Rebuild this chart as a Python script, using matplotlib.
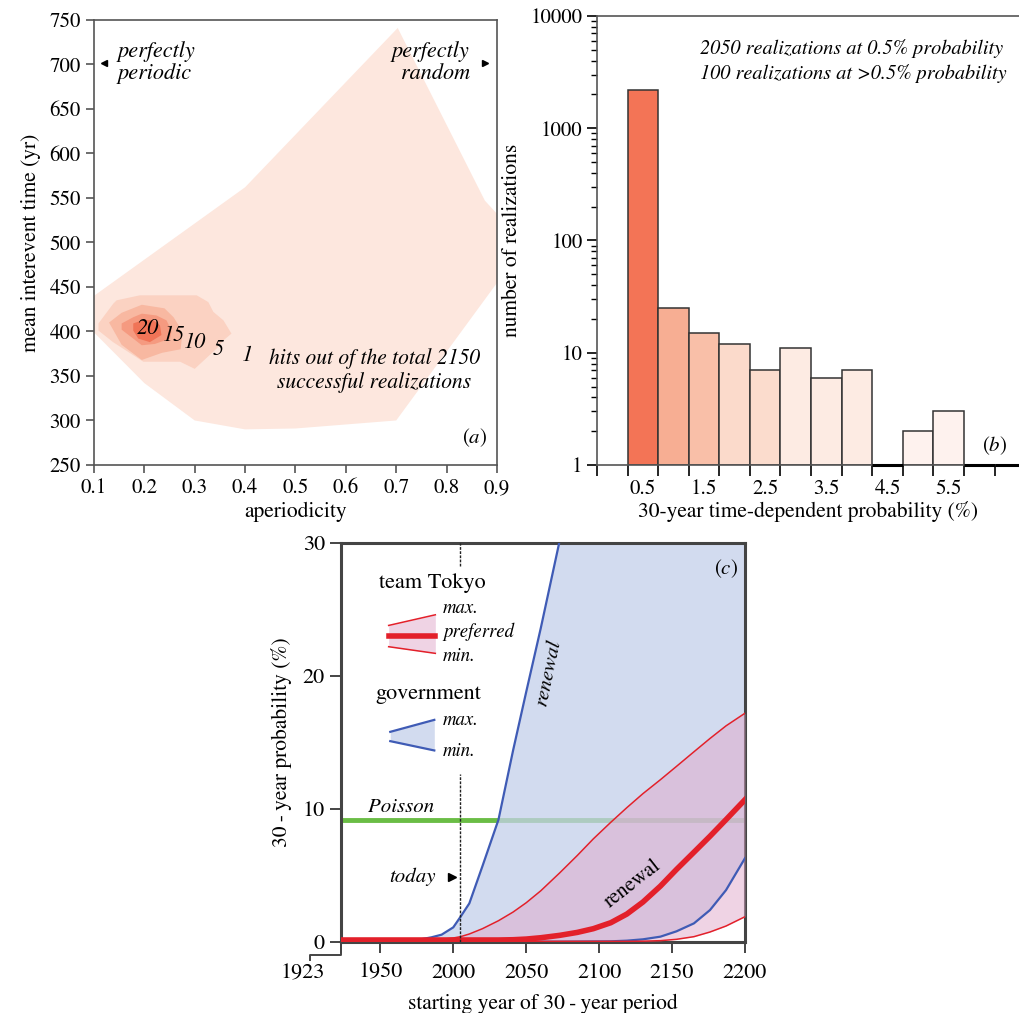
import numpy as np
import matplotlib.pyplot as plt

plt.rcParams['font.family'] = ['STIXGeneral', 'DejaVu Serif']
plt.rcParams['mathtext.fontset'] = 'stix'
plt.rcParams['font.size'] = 14
plt.rcParams['axes.linewidth'] = 1.2
plt.rcParams['axes.edgecolor'] = '#555555'

# ---- (a) hit contours: aperiodicity vs mean interevent time ----
hit_levels = ['1', '5', '10', '15', '20']
hit_colors = ['#fde7de', '#fbd2c2', '#f8b8a1', '#f59a80', '#f07457']
hits1_x = [0.08, 0.1, 0.4, 0.703, 0.876, 0.92, 0.92, 0.7, 0.5, 0.4, 0.3, 0.2, 0.1, 0.08]
hits1_y = [448, 440, 562, 741, 547, 520, 470, 300, 291, 290, 300, 342, 399, 405]
hits5_x = [0.109, 0.138, 0.145, 0.191, 0.304, 0.327, 0.337, 0.357, 0.373, 0.357, 0.344, 0.30, 0.271, 0.198, 0.138, 0.109]
hits5_y = [409, 431, 435, 440.6, 440.6, 433, 422, 412.5, 397.6, 390, 381, 358, 366, 366, 388, 401]
hits10_x = [0.13, 0.155, 0.195, 0.24, 0.258, 0.268, 0.275, 0.272, 0.235, 0.195, 0.155]
hits10_y = [410, 421, 430, 426, 416, 407, 395, 380, 376, 368, 385]
hits15_x = [0.155, 0.178, 0.195, 0.224, 0.244, 0.254, 0.251, 0.221, 0.195, 0.178, 0.155]
hits15_y = [409, 416, 420, 418, 412.5, 401, 392, 386, 384.5, 392, 402]
hits20_x = [0.178, 0.198, 0.218, 0.231, 0.234, 0.211, 0.188, 0.178]
hits20_y = [409, 413, 412.5, 407, 396, 388, 392, 401]
label_x = [0.207, 0.259, 0.30, 0.346, 0.404]
label_y = [403.6, 396, 388, 380, 373]

# ---- (b) histogram of 30-year probability ----
prob_centers = [0.5, 1.0, 1.5, 2.0, 2.5, 3.0, 3.5, 4.0, 4.5, 5.0, 5.5, 6.0, 6.5]
realizations = [2200, 25, 15, 12, 7, 11, 6, 7, 0, 2, 3, 0, 0]
bar_colors = ['#f37456', '#f7ae93', '#f9bfa8', '#fbdacb', '#fbdccd', '#fdebe3', '#fdebe3',
              '#fdebe3', '#fdebe3', '#fef2ee', '#fef2ee', '#fef2ee', '#fef2ee']
prob_labels = ['0.5', '1.5', '2.5', '3.5', '4.5', '5.5']

# ---- (c) 30-year probability through time ----
years = [1923, 1940, 1960, 1975, 1985, 1992, 2000, 2005, 2011, 2020, 2031, 2041, 2050, 2060,
         2073, 2085, 2096, 2108, 2119, 2130, 2142, 2153, 2165, 2176, 2187, 2200]
gov_max = [0.05, 0.05, 0.06, 0.15, 0.35, 0.55, 1.1, 1.9, 2.9, 5.7, 9.2, 14.4, 18.8, 23.6,
           30.2, 36, 42, 48, 54, 60, 66, 72, 78, 84, 90, 96]
gov_min = [0.02, 0.02, 0.02, 0.02, 0.02, 0.02, 0.02, 0.02, 0.02, 0.02, 0.02, 0.02, 0.02, 0.02,
           0.02, 0.03, 0.04, 0.05, 0.1, 0.2, 0.4, 0.8, 1.4, 2.4, 3.9, 6.3]
tokyo_max = [0.1, 0.1, 0.1, 0.12, 0.15, 0.2, 0.3, 0.4, 0.6, 1.0, 1.6, 2.25, 2.95, 3.85,
             5.2, 6.5, 7.75, 9.0, 10.1, 11.15, 12.2, 13.2, 14.3, 15.3, 16.25, 17.2]
tokyo_pref = [0.15, 0.15, 0.15, 0.15, 0.15, 0.15, 0.15, 0.15, 0.15, 0.15, 0.15, 0.17, 0.22, 0.32,
              0.5, 0.72, 1.0, 1.45, 2.1, 3.0, 4.2, 5.45, 6.75, 7.95, 9.2, 10.7]
tokyo_min = [0.05, 0.05, 0.05, 0.05, 0.05, 0.05, 0.05, 0.05, 0.05, 0.05, 0.05, 0.05, 0.05, 0.05,
             0.05, 0.05, 0.05, 0.05, 0.05, 0.06, 0.1, 0.2, 0.4, 0.75, 1.2, 1.9]
poisson_prob = 9.15
today_year = 2004.5
year_ticks = [1923, 1950, 2000, 2050, 2100, 2150, 2200]

blue = '#3f5bb5'
red = '#e3202a'
blue_fill = '#c4d0ea'
red_fill = '#e0a8cb'

fig = plt.figure(figsize=(10.19, 10.13), dpi=100)

# ---------------- panel (a) ----------------
ax = fig.add_axes([0.0922, 0.541, 0.3955, 0.4393])
polys = [(hits1_x, hits1_y), (hits5_x, hits5_y), (hits10_x, hits10_y),
         (hits15_x, hits15_y), (hits20_x, hits20_y)]
for (px, py), c in zip(polys, hit_colors):
    ax.fill(px, py, color=c, lw=0)
for lab, lx, ly in zip(hit_levels[::-1], label_x, label_y):
    ax.text(lx, ly, lab, style='italic', fontsize=16, ha='center', va='center')
ax.set_xlim(0.1, 0.9)
ax.set_ylim(250, 750)
ax.set_xticks(np.arange(0.1, 0.91, 0.1))
ax.set_xticklabels(['0.1', '0.2', '0.3', '0.4', '0.5', '0.6', '0.7', '0.8', '0.9'])
ax.set_yticks(range(250, 751, 50))
ax.tick_params(direction='out', length=6, width=1.2, color='#555555', labelsize=15)
ax.set_xlabel('aperiodicity', fontsize=15.5, labelpad=3)
ax.set_ylabel('mean interevent time (yr)', fontsize=15.5, labelpad=6)
ax.text(0.148, 702, 'perfectly\nperiodic', style='italic', fontsize=16, ha='left', va='center',
        linespacing=1.1)
ax.text(0.846, 702, 'perfectly\nrandom', style='italic', fontsize=16, ha='right', va='center',
        linespacing=1.1, multialignment='right')
ax.plot([0.12], [702], marker='<', color='k', ms=5)
ax.plot([0.876], [702], marker='>', color='k', ms=5)
ax.text(0.656, 356, 'hits out of the total 2150\nsuccessful realizations', style='italic',
        fontsize=15.5, ha='center', va='center', linespacing=1.2)
ax.text(0.855, 281, '($a$)', fontsize=15, ha='center', va='center')

# ---------------- panel (b) ----------------
bx = fig.add_axes([0.5859, 0.541, 0.4141, 0.4432])
for xc, n, c in zip(prob_centers, realizations, bar_colors):
    if n > 0:
        bx.bar(xc, n - 1, bottom=1, width=0.5, color=c, edgecolor='#333333', lw=1.1)
    else:
        bx.plot([xc - 0.25, xc + 0.25], [1, 1], color='k', lw=2.2, solid_capstyle='butt',
                clip_on=False, zorder=5)
bx.set_yscale('log')
bx.set_ylim(1, 10000)
bx.set_xlim(-0.25, 6.65)
bx.set_xticks(np.arange(-0.25, 6.3, 0.5))
bx.set_xticklabels([])
bx.set_xticks(prob_centers[::2][:6], minor=True)
bx.set_xticklabels(prob_labels, minor=True)
bx.tick_params(axis='x', which='major', direction='out', length=8, width=1.2)
bx.tick_params(axis='x', which='minor', length=0, pad=10, labelsize=15)
bx.tick_params(axis='y', which='major', direction='out', length=7, width=1.2, labelsize=15)
bx.tick_params(axis='y', which='minor', direction='out', length=4, width=1)
bx.set_yticks([1, 10, 100, 1000, 10000])
bx.set_yticklabels(['1', '10', '100', '1000', '10000'])
bx.spines['right'].set_visible(False)
bx.set_xlabel('30-year time-dependent probability (%)', fontsize=15.5, labelpad=2)
bx.set_ylabel('number of realizations', fontsize=15.5, labelpad=6)
bx.text(1.43, 4000, '2050 realizations at 0.5% probability\n100 realizations at >0.5% probability',
        style='italic', fontsize=14.6, ha='left', va='center', linespacing=1.4)
bx.text(6.25, 1.5, '($b$)', fontsize=15, ha='center', va='center')

# ---------------- panel (c) ----------------
cx = fig.add_axes([0.3346, 0.0701, 0.3965, 0.3939])
cx.plot([years[0], years[-1]], [poisson_prob, poisson_prob], color='#6abd45', lw=3.5, zorder=1)
cx.fill_between(years, gov_min, gov_max, color=blue_fill, alpha=0.75, lw=0, zorder=2)
cx.fill_between(years, tokyo_min, tokyo_max, color=red_fill, alpha=0.5, lw=0, zorder=3)
cx.plot(years, gov_max, color=blue, lw=1.6, zorder=4)
cx.plot(years, gov_min, color=blue, lw=1.6, zorder=4)
cx.plot(years, tokyo_max, color=red, lw=1.1, zorder=5)
cx.plot(years, tokyo_min, color=red, lw=1.1, zorder=5)
cx.plot(years, tokyo_pref, color=red, lw=4, zorder=6)
cx.plot([today_year, today_year], [28.3, 30], color='#222222', lw=1, ls=(0, (2, 1)), zorder=7)
cx.plot([today_year, today_year], [0, 12.6], color='#222222', lw=1, ls=(0, (2, 1)), zorder=7)
cx.set_xlim(1923, 2200)
cx.set_ylim(0, 30)
cx.set_xticks(year_ticks)
cx.set_xticklabels([''] + [str(y) for y in year_ticks[1:]])
cx.set_yticks([0, 10, 20, 30])
for s in cx.spines.values():
    s.set_linewidth(2.2)
    s.set_color('#444444')
cx.tick_params(direction='out', length=8, width=1.4, color='#444444', labelsize=16)
cx.tick_params(axis='x', pad=7)
cx.set_xlabel('starting year of 30\u2009-\u2009year period', fontsize=15.5, labelpad=8)
cx.set_ylabel('30\u2009-\u2009year probability (%)', fontsize=15.5, labelpad=8)
# offset label for the 1923 start
cx.plot([1923, 1923, 1901.8, 1901.8], [0, -0.98, -0.98, -1.35], color='#444444', lw=1.4,
        clip_on=False)
cx.text(1897, -2.4, '1923', fontsize=16, ha='center', va='center')

cx.text(1964, 10.15, 'Poisson', style='italic', fontsize=15, ha='center', va='center')
cx.text(1988, 4.9, 'today', style='italic', fontsize=15, ha='right', va='center')
cx.plot([1999], [4.9], marker='>', color='k', ms=6, zorder=8)
cx.text(2065, 20.2, 'renewal', style='italic', fontsize=15, ha='center', va='center', rotation=78)
cx.text(2123, 4.4, 'renewal', fontsize=15, ha='center', va='center', rotation=38)
cx.text(2187, 28.1, '($c$)', fontsize=15, ha='center', va='center')

# legend drawn by hand
cx.text(1985.4, 27.0, 'team Tokyo', fontsize=16, ha='center', va='center')
cx.fill_between([1955.7, 1987.7], [22.2, 21.7], [23.8, 24.6], color=red_fill, alpha=0.5, lw=0)
cx.plot([1955.7, 1987.7], [23.8, 24.6], color=red, lw=1.1)
cx.plot([1955.7, 1987.7], [22.2, 21.7], color=red, lw=1.1)
cx.plot([1955.7, 1987.7], [23.0, 23.0], color=red, lw=4)
cx.text(1993, 25.1, 'max.', style='italic', fontsize=13.5, ha='left', va='center')
cx.text(1993, 23.3, 'preferred', style='italic', fontsize=13.5, ha='left', va='center')
cx.text(1993, 21.5, 'min.', style='italic', fontsize=13.5, ha='left', va='center')
cx.text(1982.6, 18.6, 'government', fontsize=16, ha='center', va='center')
cx.fill_between([1956.8, 1987], [15.1, 14.4], [15.8, 16.7], color=blue_fill, alpha=0.75, lw=0)
cx.plot([1956.8, 1987], [15.8, 16.7], color=blue, lw=1.6)
cx.plot([1956.8, 1987], [15.1, 14.4], color=blue, lw=1.6)
cx.text(1993, 16.7, 'max.', style='italic', fontsize=13.5, ha='left', va='center')
cx.text(1993, 14.4, 'min.', style='italic', fontsize=13.5, ha='left', va='center')

fig.savefig('out.png', dpi=100)
